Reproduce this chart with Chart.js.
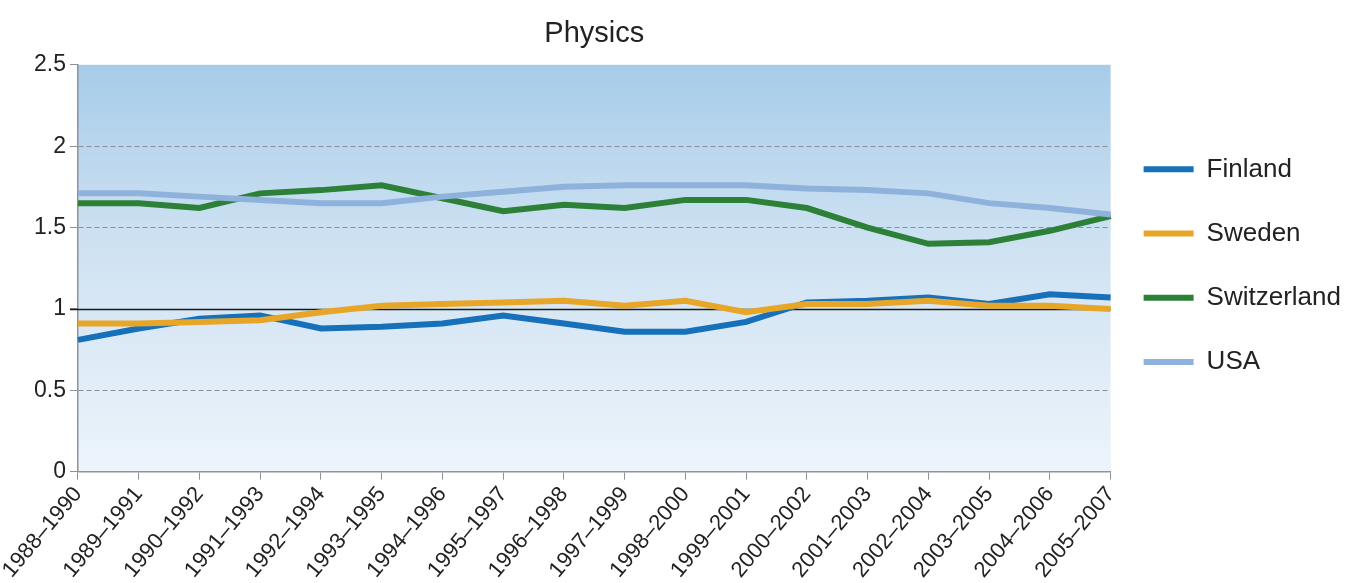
<!DOCTYPE html>
<html>
<head>
<meta charset="utf-8">
<script src="https://cdn.jsdelivr.net/npm/chart.js@4.4.1/dist/chart.umd.min.js"></script>
<style>
  html, body { margin: 0; padding: 0; background: #ffffff; }
  #wrap { width: 1347px; height: 583px; position: relative; }
</style>
</head>
<body>
<div id="wrap"><canvas id="c"></canvas></div>
<script>
const categories = ['1988–1990','1989–1991','1990–1992','1991–1993','1992–1994','1993–1995','1994–1996','1995–1997','1996–1998','1997–1999','1998–2000','1999–2001','2000–2002','2001–2003','2002–2004','2003–2005','2004–2006','2005–2007'];
const finland     = [0.81, 0.88, 0.94, 0.96, 0.88, 0.89, 0.91, 0.96, 0.91, 0.86, 0.86, 0.92, 1.04, 1.05, 1.07, 1.03, 1.09, 1.07];
const sweden      = [0.91, 0.91, 0.92, 0.93, 0.98, 1.02, 1.03, 1.04, 1.05, 1.02, 1.05, 0.98, 1.03, 1.03, 1.05, 1.02, 1.02, 1.00];
const switzerland = [1.65, 1.65, 1.62, 1.71, 1.73, 1.76, 1.68, 1.60, 1.64, 1.62, 1.67, 1.67, 1.62, 1.50, 1.40, 1.41, 1.48, 1.57];
const usa         = [1.71, 1.71, 1.69, 1.67, 1.65, 1.65, 1.69, 1.72, 1.75, 1.76, 1.76, 1.76, 1.74, 1.73, 1.71, 1.65, 1.62, 1.58];
const seriesNames = ['Finland', 'Sweden', 'Switzerland', 'USA'];
const yTicks = { min: 0, max: 2.5, step: 0.5 };
const referenceValue = 1;
const titleText = 'Physics';

const FONT = "'Liberation Sans', Arimo, sans-serif";
const colors = ['#1670ba', '#e8a628', '#2d8037', '#8fb2dc'];
const values = [finland, sweden, switzerland, usa];
const drawOrder = [4, 3, 2, 1];

const bgPlugin = {
  id: 'plotBg',
  beforeDraw(chart) {
    const { ctx, chartArea: a } = chart;
    const g = ctx.createLinearGradient(0, a.top, 0, a.bottom);
    g.addColorStop(0, '#a7cce9');
    g.addColorStop(0.45, '#cfe2f2');
    g.addColorStop(1, '#edf4fb');
    ctx.save();
    ctx.fillStyle = g;
    ctx.fillRect(a.left, a.top, a.right - a.left, a.bottom - a.top);
    ctx.restore();
  }
};
const refLinePlugin = {
  id: 'refLine',
  beforeDatasetsDraw(chart) {
    const { ctx, chartArea: a, scales } = chart;
    const y = Math.round(scales.y.getPixelForValue(referenceValue)) + 0.5;
    ctx.save();
    ctx.strokeStyle = '#1a1a1a';
    ctx.lineWidth = 1.3;
    ctx.beginPath();
    ctx.moveTo(a.left - 8, y);
    ctx.lineTo(a.right, y);
    ctx.stroke();
    ctx.restore();
  }
};

new Chart(document.getElementById('c'), {
  type: 'line',
  data: {
    labels: categories,
    datasets: seriesNames.map((n, i) => ({
      label: n,
      data: values[i],
      borderColor: colors[i],
      backgroundColor: colors[i],
      borderWidth: 6,
      pointRadius: 0,
      tension: 0,
      fill: false,
      order: drawOrder[i]
    }))
  },
  options: {
    responsive: true,
    maintainAspectRatio: false,
    animation: false,
    layout: { padding: { left: 30, right: -4, top: 0, bottom: -2 } },
    plugins: {
      title: {
        display: true,
        text: titleText,
        fullSize: false,
        color: '#222',
        font: { family: FONT, size: 29, weight: 'normal' },
        padding: { top: 17, bottom: 13 }
      },
      legend: {
        position: 'right',
        fullSize: false,
        labels: {
          boxWidth: 50,
          boxHeight: 6,
          padding: 33,
          color: '#222',
          font: { family: FONT, size: 26 },
          sort: (a, b) => a.datasetIndex - b.datasetIndex,
          generateLabels: (chart) => Chart.defaults.plugins.legend.labels.generateLabels(chart)
            .map(l => ({ ...l, text: [l.text], lineWidth: 0 }))
        }
      },
      tooltip: { enabled: false }
    },
    scales: {
      x: {
        offset: false,
        grid: { drawOnChartArea: false, drawTicks: true, tickLength: 8, tickColor: '#8d939a', color: '#8d939a' },
        border: { display: true, color: '#8d939a', width: 1.5 },
        ticks: {
          autoSkip: false, minRotation: 50, maxRotation: 50, padding: 2,
          color: '#222', font: { family: FONT, size: 22 }
        }
      },
      y: {
        min: yTicks.min, max: yTicks.max,
        ticks: {
          stepSize: yTicks.step, padding: 4, color: '#222', font: { family: FONT, size: 23 },
          callback: (v) => String(v)
        },
        grid: {
          tickLength: 8,
          tickColor: '#8d939a',
          color: (ctx) => (ctx.tick && (ctx.tick.value === yTicks.min || ctx.tick.value === yTicks.max || ctx.tick.value === referenceValue)) ? 'rgba(0,0,0,0)' : '#8a9099',
          lineWidth: 1
        },
        border: { display: true, color: '#8d939a', width: 1.5, dash: [5, 3] }
      }
    }
  },
  plugins: [bgPlugin, refLinePlugin]
});
</script>
</body>
</html>
